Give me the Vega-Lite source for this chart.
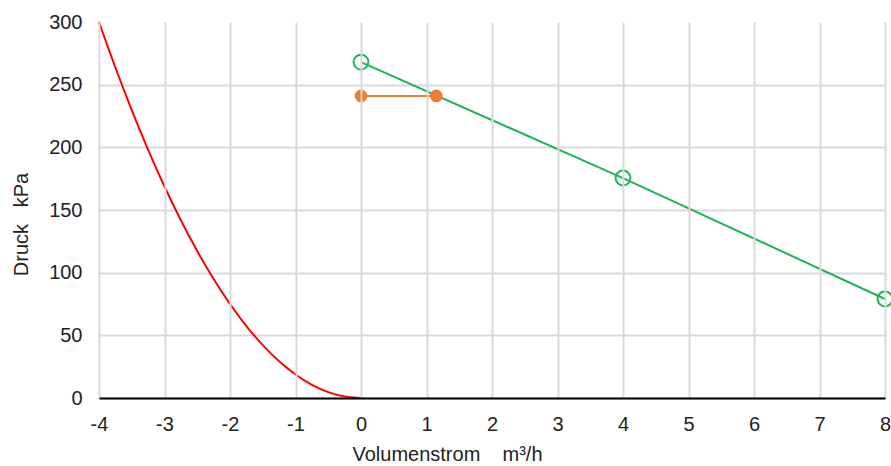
{
  "$schema": "https://vega.github.io/schema/vega-lite/v6.json",
  "width": 786,
  "height": 376,
  "autosize": "none",
  "padding": {"left": 99, "top": 22, "right": 6, "bottom": 68},
  "background": "white",
  "config": {
    "view": {"stroke": null},
    "font": "Liberation Sans",
    "axis": {"gridColor": {"condition": {"test": "datum.value === 300", "value": "transparent"}, "value": "#d9d9d9"}, "gridWidth": 2, "ticks": false, "labelFont": "Liberation Sans", "titleFont": "Liberation Sans", "labelColor": "#222222", "titleColor": "#222222", "titleFontWeight": "normal", "labelFontSize": 20, "titleFontSize": 20, "labelExpr": "'' + datum.value"}
  },
  "datasets": {
    "pts": [
      {"series": "rot", "q": -4, "p": 300},
      {"series": "rot", "q": -3.75, "p": 263.7},
      {"series": "rot", "q": -3.5, "p": 229.7},
      {"series": "rot", "q": -3.25, "p": 198.0},
      {"series": "rot", "q": -3, "p": 168.75},
      {"series": "rot", "q": -2.75, "p": 141.8},
      {"series": "rot", "q": -2.5, "p": 117.2},
      {"series": "rot", "q": -2.25, "p": 94.9},
      {"series": "rot", "q": -2, "p": 75},
      {"series": "rot", "q": -1.75, "p": 57.4},
      {"series": "rot", "q": -1.5, "p": 42.2},
      {"series": "rot", "q": -1.25, "p": 29.3},
      {"series": "rot", "q": -1, "p": 18.75},
      {"series": "rot", "q": -0.75, "p": 10.5},
      {"series": "rot", "q": -0.5, "p": 4.7},
      {"series": "rot", "q": -0.25, "p": 1.2},
      {"series": "rot", "q": 0, "p": 0},
      {"series": "gruen", "q": 0, "p": 268},
      {"series": "gruen", "q": 4, "p": 175.5},
      {"series": "gruen", "q": 8, "p": 79},
      {"series": "orange", "q": 0, "p": 241},
      {"series": "orange", "q": 1.15, "p": 241}
    ],
    "axisline": [{"q": 0}]
  },
  "encoding": {
    "x": {"field": "q", "type": "quantitative", "scale": {"domain": [-4, 8], "nice": false},
      "axis": {"values": [-4,-3,-2,-1,0,1,2,3,4,5,6,7,8], "title": "Volumenstrom\u00a0\u00a0\u00a0\u00a0m³/h", "domainColor": "black", "domainWidth": 2, "labelFlush": false, "labelPadding": 16, "titleX": 348, "titleY": 62, "titleAlign": "center", "titleBaseline": "alphabetic", "zindex": 1}},
    "y": {"field": "p", "type": "quantitative", "scale": {"domain": [0, 300], "nice": false},
      "axis": {"values": [0,50,100,150,200,250,300], "title": "Druck\u00a0\u00a0\u00a0kPa", "domain": false, "labelPadding": 17, "labelFlush": false, "titleX": -78, "titleY": 202, "titleAlign": "center", "titleBaseline": "middle"}}
  },
  "layer": [
    {"data": {"name": "pts"}, "transform": [{"filter": "datum.series === 'rot'"}],
     "mark": {"type": "line", "color": "#ff0000", "strokeWidth": 2, "interpolate": "monotone", "clip": false}},
    {"data": {"name": "axisline"}, "mark": {"type": "rule", "color": "black", "strokeWidth": 2},
     "encoding": {"x": {"field": "q", "type": "quantitative"}, "y": {"datum": 0}, "y2": {"datum": 300}}},
    {"data": {"name": "pts"}, "transform": [{"filter": "datum.series === 'gruen'"}],
     "mark": {"type": "line", "color": "#21b257", "strokeWidth": 2}},
    {"data": {"name": "pts"}, "transform": [{"filter": "datum.series === 'gruen'"}],
     "mark": {"type": "point", "shape": "circle", "filled": false, "color": "#21b257", "strokeWidth": 2, "size": 220, "opacity": 1, "clip": false}},
    {"data": {"name": "pts"}, "transform": [{"filter": "datum.series === 'orange'"}],
     "mark": {"type": "line", "color": "#ed7d31", "strokeWidth": 2}},
    {"data": {"name": "pts"}, "transform": [{"filter": "datum.series === 'orange'"}],
     "mark": {"type": "point", "shape": "circle", "filled": true, "color": "#ed7d31", "size": 160, "opacity": 1}}
  ]
}
